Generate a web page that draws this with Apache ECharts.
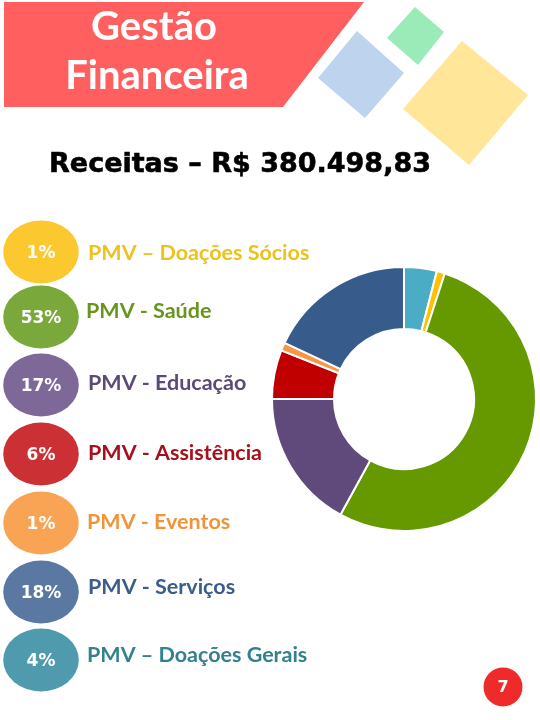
<!DOCTYPE html>
<html><head><meta charset="utf-8">
<script src="https://cdn.jsdelivr.net/npm/echarts@6/dist/echarts.min.js"></script>
<style>html,body{margin:0;padding:0;background:#fff}#c{width:540px;height:720px}</style>
</head><body><div id="c"></div>
<script>
// Legend order (top to bottom)
const categories = ['PMV – Doações Sócios','PMV - Saúde','PMV - Educação','PMV - Assistência','PMV - Eventos','PMV - Serviços','PMV – Doações Gerais'];
const values = [1, 53, 17, 6, 1, 18, 4];
const pctLabels = ['1%','53%','17%','6%','1%','18%','4%'];
// Donut order, clockwise from 12 o'clock
const pieOrder = ['PMV – Doações Gerais','PMV – Doações Sócios','PMV - Saúde','PMV - Educação','PMV - Assistência','PMV - Eventos','PMV - Serviços'];
const title = 'Receitas – R$ 380.498,83';
const pageNumber = '7';

const sliceColors = {'PMV – Doações Gerais':'#4BACC6','PMV – Doações Sócios':'#FFC000','PMV - Saúde':'#669900','PMV - Educação':'#604A7B','PMV - Assistência':'#C00000','PMV - Eventos':'#F79646','PMV - Serviços':'#375C8C'};
const bubbleColors = ['#FBC830','#7AA83A','#7D6898','#CB3034','#F9A455','#5A78A2','#4F9BAD'];
const textColors = ['#EDC21F','#67951D','#5B4A78','#A80F1C','#F0943A','#3B5D8B','#33808F'];

const chart = echarts.init(document.getElementById('c'), null, {renderer:'canvas'});
const g = [];
// banner
g.push({type:'polygon', shape:{points:[[4,2],[364,2],[283,107],[4,107]]}, style:{fill:'#FF5F5F'}});
g.push({type:'text', style:{x:154, y:27, text:'Gestão', fill:'#fff', font:'bold 40px Lato', align:'center', verticalAlign:'middle'}});
g.push({type:'text', style:{x:157, y:76, text:'Financeira', fill:'#fff', font:'bold 40px Lato', align:'center', verticalAlign:'middle'}});
// decorative diamonds
g.push({type:'polygon', shape:{points:[[415,7],[444,32],[418,65],[387,38]]}, style:{fill:'#9BEBB9'}});
g.push({type:'polygon', shape:{points:[[357,31],[404,73],[365,118],[318,78]]}, style:{fill:'#BDD3EE'}});
g.push({type:'polygon', shape:{points:[[462,41],[528,95],[469,165],[403,109]]}, style:{fill:'#FFE699'}});
// title
g.push({type:'text', style:{x:240, y:165, text:title, fill:'#000', font:'bold 27px "DejaVu Sans"', align:'center', verticalAlign:'middle', stroke:'#000', lineWidth:0.6}});
// legend bubbles
const cy = [252,317,385,454,523,592,660];
const ly = [253,311,383,453,522,587,655];
const lx = [88,86,88,88,87,88,87];
categories.forEach((c,i)=>{
  g.push({type:'circle', x:41, y:cy[i], scaleX:1.2, shape:{cx:0,cy:0,r:31.5}, style:{fill:bubbleColors[i]}});
  g.push({type:'text', style:{x:41, y:cy[i]+2, text:pctLabels[i], fill:'#fff', font:'bold 17px "DejaVu Sans"', align:'center', verticalAlign:'middle'}});
  g.push({type:'text', style:{x:lx[i], y:ly[i], text:c, fill:textColors[i], font:'bold 21.5px Lato', align:'left', verticalAlign:'middle'}});
});
// page number
g.push({type:'circle', shape:{cx:503, cy:687, r:19.5}, style:{fill:'#EE2A2A'}});
g.push({type:'text', style:{x:503, y:688, text:pageNumber, fill:'#fff', font:'bold 16px "DejaVu Sans"', align:'center', verticalAlign:'middle'}});

chart.setOption({
  animation:false,
  graphic:g,
  series:[{
    type:'pie',
    center:[404,399],
    radius:[70,132],
    startAngle:90,
    clockwise:true,
    label:{show:false},
    labelLine:{show:false},
    itemStyle:{borderColor:'#fff', borderWidth:2},
    data: pieOrder.map(n=>({name:n, value: values[categories.indexOf(n)], itemStyle:{color:sliceColors[n]}}))
  }]
});
</script></body></html>
